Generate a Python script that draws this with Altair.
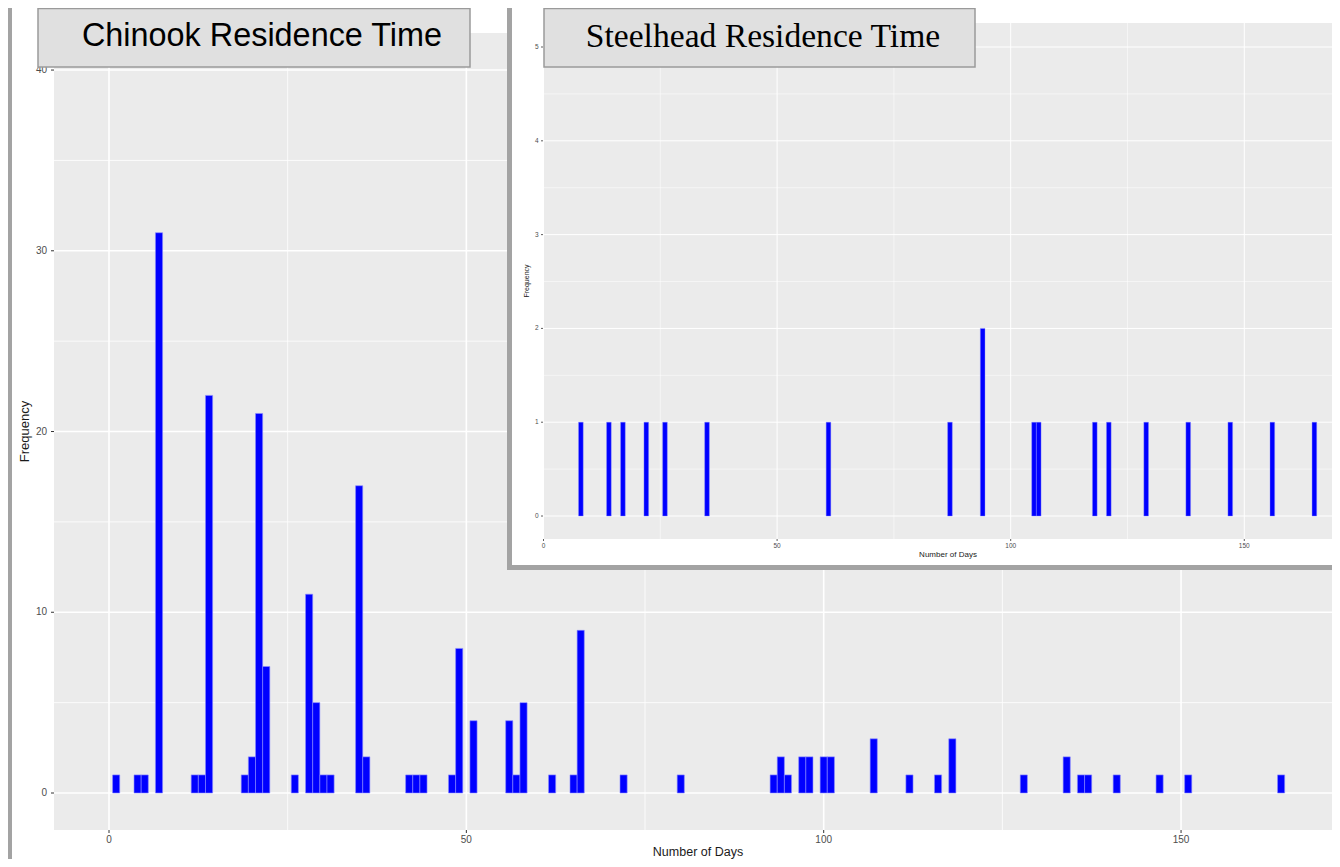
import altair as alt
import pandas as pd

# ---------------- data ----------------
chinook_days = [1, 4, 5, 7, 12, 13, 14, 19, 20, 21, 22, 26, 28, 29, 30, 31, 35, 36,
                42, 43, 44, 48, 49, 51, 56, 57, 58, 62, 65, 66, 72, 80, 93, 94, 95,
                97, 98, 100, 101, 107, 112, 116, 118, 128, 134, 136, 137, 141, 147,
                151, 164]
chinook_freq = [1, 1, 1, 31, 1, 1, 22, 1, 2, 21, 7, 1, 11, 5, 1, 1, 17, 2,
                1, 1, 1, 1, 8, 4, 4, 1, 5, 1, 1, 9, 1, 1, 1, 2, 1,
                2, 2, 2, 2, 3, 1, 1, 3, 1, 2, 1, 1, 1, 1,
                1, 1]

steelhead_days = [8, 14, 17, 22, 26, 35, 61, 87, 94, 105, 106, 118, 121, 129,
                  138, 147, 156, 165]
steelhead_freq = [1, 1, 1, 1, 1, 1, 1, 1, 2, 1, 1, 1, 1, 1, 1, 1, 1, 1]

main_x_major = [0, 50, 100, 150]
main_x_minor = [25, 75, 125]
main_y_major = [0, 10, 20, 30, 40]
main_y_minor = [5, 15, 25, 35]

inset_x_major = [0, 50, 100, 150]
inset_x_minor = [25, 75, 125]
inset_y_major = [0, 1, 2, 3, 4, 5]
inset_y_minor = [0.5, 1.5, 2.5, 3.5, 4.5]

main_title = "Chinook Residence Time"
inset_title = "Steelhead Residence Time"
x_title = "Number of Days"
y_title = "Frequency"

# ---------------- styling / layout ----------------
W, H = 1324, 851
PANEL = "#EBEBEB"
FRAME = "#A3A3A3"
BOX_FILL = "#E0E0E0"
BOX_STROKE = "#9A9A9A"
BLUE = "#0000FF"
LABEL = "#4D4D4D"
TICK = "#333333"
SANS = "Liberation Sans"
SERIF = "Liberation Serif"

MP = dict(x0=46, x1=W, y0=25, y1=822)   # main panel
IP = dict(x0=535, x1=W, y0=15, y1=531)  # inset panel

MX = alt.Scale(domain=[-7.696, 172.24], range=[46, 1332], nice=False, zero=False)
MY = alt.Scale(domain=[-2.047, 42.05], range=[MP["y1"], MP["y0"]], nice=False, zero=False)
IX = alt.Scale(domain=[0, 171], range=[535.5, 1334.4], nice=False, zero=False)
IY = alt.Scale(domain=[-0.245, 5.256], range=[IP["y1"], IP["y0"]], nice=False, zero=False)

one = pd.DataFrame({"a": [0]})


def box(x0, x1, y0, y1, **kw):
    return alt.Chart(one).mark_rect(**kw).encode(
        x=alt.value(x0), x2=alt.value(x1), y=alt.value(y0), y2=alt.value(y1))


def vgrid(vals, scale, p, width):
    return alt.Chart(pd.DataFrame({"v": vals})).mark_rule(
        color="white", strokeWidth=width).encode(
        x=alt.X("v:Q", scale=scale, axis=None),
        y=alt.value(p["y0"]), y2=alt.value(p["y1"]))


def hgrid(vals, scale, p, width):
    return alt.Chart(pd.DataFrame({"v": vals})).mark_rule(
        color="white", strokeWidth=width).encode(
        y=alt.Y("v:Q", scale=scale, axis=None),
        x=alt.value(p["x0"]), x2=alt.value(p["x1"]))


def xticks(vals, scale, y0, y1, width):
    return alt.Chart(pd.DataFrame({"v": vals})).mark_rule(
        color=TICK, strokeWidth=width).encode(
        x=alt.X("v:Q", scale=scale, axis=None),
        y=alt.value(y0), y2=alt.value(y1))


def yticks(vals, scale, x0, x1, width):
    return alt.Chart(pd.DataFrame({"v": vals})).mark_rule(
        color=TICK, strokeWidth=width).encode(
        y=alt.Y("v:Q", scale=scale, axis=None),
        x=alt.value(x0), x2=alt.value(x1))


def xlabels(vals, scale, y, size):
    return alt.Chart(pd.DataFrame({"v": vals})).mark_text(
        font=SANS, fontSize=size, color=LABEL, align="center", baseline="middle").encode(
        x=alt.X("v:Q", scale=scale, axis=None), y=alt.value(y), text="v:Q")


def ylabels(vals, scale, x, size):
    return alt.Chart(pd.DataFrame({"v": vals})).mark_text(
        font=SANS, fontSize=size, color=LABEL, align="right", baseline="middle").encode(
        y=alt.Y("v:Q", scale=scale, axis=None), x=alt.value(x), text="v:Q")


def label(text, x, y, size, angle=0, font=SANS, color="#1A1A1A"):
    return alt.Chart(pd.DataFrame({"t": [text]})).mark_text(
        font=font, fontSize=size, color=color, align="center", baseline="middle",
        angle=angle).encode(text="t:N", x=alt.value(x), y=alt.value(y))


# ---------------- main chart ----------------
chinook_df = pd.DataFrame({"day": chinook_days, "freq": chinook_freq})
main_bars = alt.Chart(chinook_df).transform_calculate(
    lo="datum.day - 0.5", hi="datum.day + 0.5").mark_bar(
    fill=BLUE, stroke="#8C8CFF", strokeWidth=0.6).encode(
    x=alt.X("lo:Q", scale=MX, axis=None),
    x2="hi:Q",
    y=alt.Y("freq:Q", scale=MY, axis=None),
    y2=alt.datum(0))

main = alt.layer(
    box(MP["x0"], MP["x1"], MP["y0"], MP["y1"], fill=PANEL),
    vgrid(main_x_minor, MX, MP, 0.8),
    hgrid(main_y_minor, MY, MP, 0.8),
    vgrid(main_x_major, MX, MP, 1.6),
    hgrid(main_y_major, MY, MP, 1.6),
    main_bars,
    xticks(main_x_major, MX, MP["y1"], MP["y1"] + 3, 1),
    yticks(main_y_major, MY, MP["x0"] - 3, MP["x0"], 1),
    xlabels(main_x_major, MX, 832, 10),
    ylabels(main_y_major, MY, 39, 10),
    label(x_title, 690, 843.5, 12.5),
    label(y_title, 17, (MP["y0"] + MP["y1"]) / 2, 13, angle=270),
)

# ---------------- inset chart ----------------
steel_df = pd.DataFrame({"day": steelhead_days, "freq": steelhead_freq})
inset_bars = alt.Chart(steel_df).transform_calculate(
    lo="datum.day - 0.5", hi="datum.day + 0.5").mark_bar(
    fill=BLUE, stroke="#8C8CFF", strokeWidth=0.4).encode(
    x=alt.X("lo:Q", scale=IX, axis=None),
    x2="hi:Q",
    y=alt.Y("freq:Q", scale=IY, axis=None),
    y2=alt.datum(0))

inset = alt.layer(
    box(IP["x0"], IP["x1"], IP["y0"], IP["y1"], fill=PANEL),
    vgrid(inset_x_minor, IX, IP, 0.5),
    hgrid(inset_y_minor, IY, IP, 0.5),
    vgrid(inset_x_major, IX, IP, 1.0),
    hgrid(inset_y_major, IY, IP, 1.0),
    inset_bars,
    xticks(inset_x_major, IX, IP["y1"], IP["y1"] + 2, 0.8),
    yticks(inset_y_major, IY, IP["x0"] - 2, IP["x0"], 0.8),
    xlabels(inset_x_major, IX, 538, 6.5),
    ylabels(inset_y_major, IY, 530.5, 6.5),
    label(x_title, 940, 547, 8),
    label(y_title, 519, (IP["y0"] + IP["y1"]) / 2, 7, angle=270),
)

# ---------------- frames and title boxes ----------------
main_frame = box(0, 4, 0, H, fill=FRAME)
inset_frame = box(499, W, 0, 562, fill=FRAME)
inset_white = box(504, W, 0, 557, fill="white")

title_box_main = box(30, 462, 0.5, 59, fill=BOX_FILL, stroke=BOX_STROKE, strokeWidth=1.5)
title_box_inset = box(536, 967, 0.5, 59, fill=BOX_FILL, stroke=BOX_STROKE, strokeWidth=1.5)

title_text_main = label(main_title, 254, 28, 32.4, color="black")
title_text_inset = label(inset_title, 755, 29, 33.6, font=SERIF, color="black")

chart = alt.layer(
    main_frame,
    main,
    inset_frame,
    inset_white,
    inset,
    title_box_main,
    title_box_inset,
    title_text_main,
    title_text_inset,
).resolve_scale(x="independent", y="independent").properties(
    width=W, height=H, padding=0,
    autosize=alt.AutoSizeParams(type="none"),
    background="white",
).configure_view(stroke=None)

chart.save("out.html", embed_options={"renderer": "svg", "actions": False})
